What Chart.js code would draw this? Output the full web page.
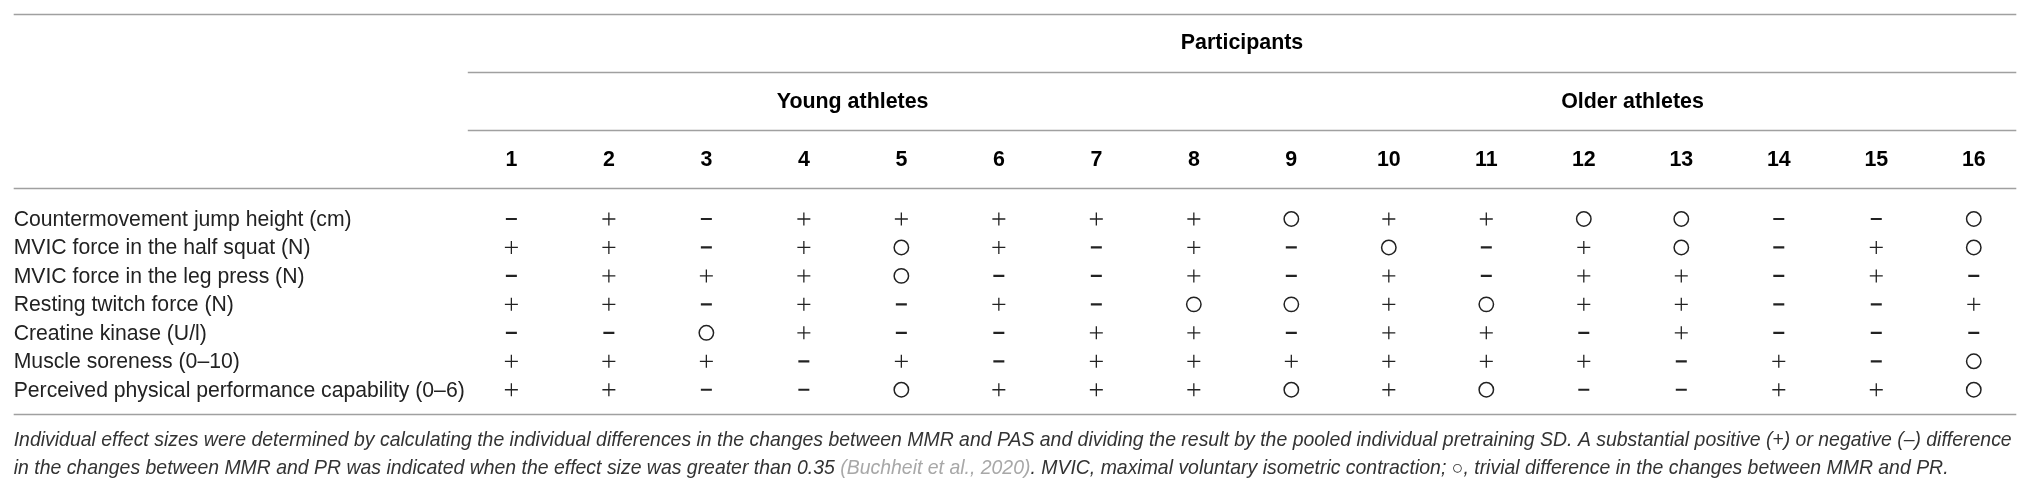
<!DOCTYPE html>
<html>
<head>
<meta charset="utf-8">
<script src="https://cdn.jsdelivr.net/npm/chart.js@4.4.1/dist/chart.umd.min.js"></script>
<style>
    html, body { margin: 0; padding: 0; background: #fff; }
    #wrap { width: 2032px; height: 492px; }
</style>
</head>
<body>
<div id="wrap"><canvas id="effectTable" width="2032" height="492"></canvas></div>
<script>
// Row labels (measures) and column labels (participants)
var measures = [
    'Countermovement jump height (cm)',
    'MVIC force in the half squat (N)',
    'MVIC force in the leg press (N)',
    'Resting twitch force (N)',
    'Creatine kinase (U/l)',
    'Muscle soreness (0–10)',
    'Perceived physical performance capability (0–6)'
];
var participants = [1, 2, 3, 4, 5, 6, 7, 8, 9, 10, 11, 12, 13, 14, 15, 16];
var groups = ['Young athletes', 'Older athletes'];
var groupFirst = [1, 9];
var groupLast = [8, 16];

// '+' positive, '-' negative, 'o' trivial difference
var cmjHeight      = ['-', '+', '-', '+', '+', '+', '+', '+', 'o', '+', '+', 'o', 'o', '-', '-', 'o'];
var halfSquat      = ['+', '+', '-', '+', 'o', '+', '-', '+', '-', 'o', '-', '+', 'o', '-', '+', 'o'];
var legPress       = ['-', '+', '+', '+', 'o', '-', '-', '+', '-', '+', '-', '+', '+', '-', '+', '-'];
var twitchForce    = ['+', '+', '-', '+', '-', '+', '-', 'o', 'o', '+', 'o', '+', '+', '-', '-', '+'];
var creatineKinase = ['-', '-', 'o', '+', '-', '-', '+', '+', '-', '+', '+', '-', '+', '-', '-', '-'];
var soreness       = ['+', '+', '+', '-', '+', '-', '+', '+', '+', '+', '+', '+', '-', '+', '-', 'o'];
var performance    = ['+', '+', '-', '-', 'o', '+', '+', '+', 'o', '+', 'o', '-', '-', '+', '+', 'o'];

var effectRows = [cmjHeight, halfSquat, legPress, twitchForce, creatineKinase, soreness, performance];

var noteLine1 = 'Individual effect sizes were determined by calculating the individual differences in the changes between MMR and PAS and dividing the result by the pooled individual pretraining SD. A substantial positive (+) or negative (–) difference';
var noteLine2 = [
    ['in the changes between MMR and PR was indicated when the effect size was greater than 0.35 ', '#333'],
    ['(Buchheit et al., 2020)', '#a8a8a8'],
    ['. MVIC, maximal voluntary isometric contraction; ○, trivial difference in the changes between MMR and PR.', '#333']
];

function EffectTable() { }

EffectTable.prototype = {
    chart: null,

    // vertical positions in row units (0 = first measure row)
    rowPos: {
        participants: -6.17,
        groups: -4.10,
        numbers: -2.07,
        rules: [-7.19, -5.15, -3.12, -1.085, 6.85],
        partialRules: [false, true, true, false, false],
        notes: [7.80, 8.78]
    },

    init: function () {
        var me = this;
        me.chart = new Chart(document.getElementById('effectTable'), {
            type: 'scatter',
            data: { datasets: me.buildDatasets() },
            options: {
                responsive: false,
                animation: false,
                events: [],
                layout: { padding: 0 },
                plugins: { legend: { display: false }, tooltip: { enabled: false } },
                scales: {
                    x: { type: 'linear', min: -4.156, max: 16.508, display: false },
                    y: { type: 'linear', min: -7.39, max: 9.288, reverse: true, display: false }
                }
            },
            plugins: [me.textPlugin()]
        });
    },

    buildDatasets: function () {
        var plus = [], minus = [], trivial = [];
        effectRows.forEach(function (row, r) {
            row.forEach(function (s, c) {
                var pt = { x: participants[c], y: r };
                if (s === '+') plus.push(pt);
                else if (s === '-') minus.push(pt);
                else trivial.push(pt);
            });
        });
        return [
            { label: '+', data: plus, pointStyle: 'cross', pointRadius: 6.5, pointBorderWidth: 1.3, borderColor: '#222', backgroundColor: '#222' },
            { label: '–', data: minus, pointStyle: 'line', pointRadius: 5.5, pointBorderWidth: 2.2, borderColor: '#222', backgroundColor: '#222' },
            { label: 'o', data: trivial, pointStyle: 'circle', pointRadius: 7.2, pointBorderWidth: 1.5, borderColor: '#222', backgroundColor: '#fff' }
        ];
    },

    textPlugin: function () {
        var me = this;
        return {
            id: 'tableText',
            afterDraw: function (chart) {
                var ctx = chart.ctx;
                var xs = chart.scales.x, ys = chart.scales.y;
                var area = chart.chartArea;
                var left = area.left + 5, right = area.right - 7;
                var colLeft = xs.getPixelForValue(0.553);
                var pos = me.rowPos;

                ctx.save();
                // rules
                ctx.strokeStyle = '#a0a0a0';
                ctx.lineWidth = 1.6;
                pos.rules.forEach(function (r, i) {
                    var y = Math.round(ys.getPixelForValue(r)) + 0.5;
                    ctx.beginPath();
                    ctx.moveTo(pos.partialRules[i] ? colLeft : left, y);
                    ctx.lineTo(right, y);
                    ctx.stroke();
                });

                // header
                ctx.fillStyle = '#000';
                ctx.textBaseline = 'middle';
                ctx.textAlign = 'center';
                ctx.font = 'bold 21.4px "Liberation Sans", Arial, sans-serif';
                ctx.fillText('Participants', (colLeft + right) / 2, ys.getPixelForValue(pos.participants));
                groups.forEach(function (g, i) {
                    var cx = (xs.getPixelForValue(groupFirst[i]) + xs.getPixelForValue(groupLast[i])) / 2;
                    ctx.fillText(g, cx, ys.getPixelForValue(pos.groups));
                });
                participants.forEach(function (p) {
                    ctx.fillText(String(p), xs.getPixelForValue(p), ys.getPixelForValue(pos.numbers));
                });

                // row labels
                ctx.textAlign = 'left';
                ctx.fillStyle = '#222';
                ctx.font = '21.2px "Liberation Sans", Arial, sans-serif';
                measures.forEach(function (m, r) {
                    ctx.fillText(m, left, ys.getPixelForValue(r) + 1);
                });

                // footnote, sized to span the table width
                var size = 20;
                ctx.font = 'italic ' + size + 'px "Liberation Sans", Arial, sans-serif';
                size = size * (2012 - left) / ctx.measureText(noteLine1).width;
                ctx.font = 'italic ' + size.toFixed(2) + 'px "Liberation Sans", Arial, sans-serif';
                ctx.fillStyle = '#333';
                ctx.fillText(noteLine1, left, ys.getPixelForValue(pos.notes[0]));
                var x = left, y2 = ys.getPixelForValue(pos.notes[1]);
                noteLine2.forEach(function (seg) {
                    ctx.fillStyle = seg[1];
                    ctx.fillText(seg[0], x, y2);
                    x += ctx.measureText(seg[0]).width;
                });
                ctx.restore();
            }
        };
    }
};

var table = new EffectTable();
table.init();
</script>
</body>
</html>
